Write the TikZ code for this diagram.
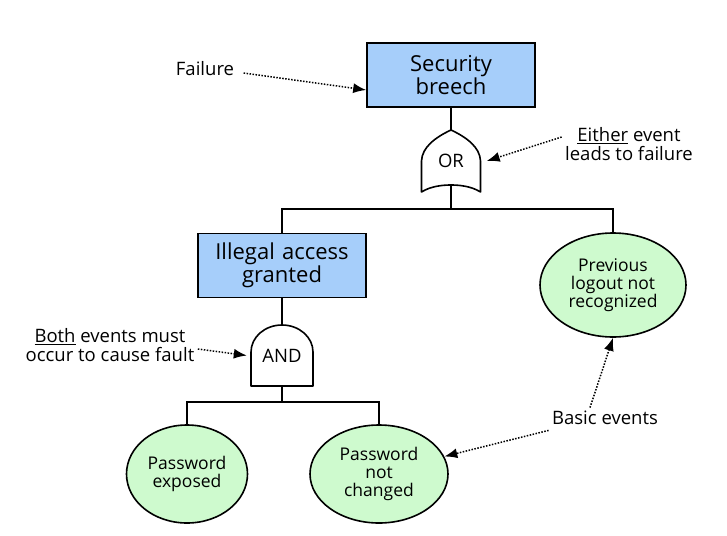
\documentclass[tikz,border=0pt]{standalone}
\usepackage{fontspec}
\setmainfont{Open Sans}
\usetikzlibrary{arrows.meta,positioning,shapes.geometric}
\definecolor{boxblue}{RGB}{166,206,250}
\definecolor{eventgreen}{RGB}{206,250,206}
\tikzset{
    %Define style for fault event boxes
    faultbox/.style={
           rectangle,
           draw=black, line width=1.6pt,
           fill=boxblue,
           minimum width=168pt,
           minimum height=64pt,
           text width=160pt,
           align=center,
           font=\fontsize{22}{21}\selectfont},
    %Basic events are ellipses
    basicevent/.style={
           ellipse,
           draw=black, line width=1.6pt,
           fill=eventgreen,
           inner sep=0pt,
           align=center,
           font=\fontsize{17.5}{18}\selectfont},
    gatenode/.style={inner sep=0pt, font=\fontsize{18.5}{18}\selectfont},
    gateline/.style={draw=black, line width=1.6pt, line join=round},
    treeline/.style={draw=black, line width=1.6pt},
    notetext/.style={align=center, font=\fontsize{18.5}{19}\selectfont},
    notearrow/.style={draw=black, line width=1.5pt, dash pattern=on 1.5pt off 1.5pt,
           -{Latex[length=13pt,width=10pt]}}
}

\begin{document}
\begin{tikzpicture}[x=1pt, y=-1pt]
\useasboundingbox (0,0) rectangle (727,535);
%Events and gates
\node[faultbox] (secbox) at (451,75) {Security\\breech};
\node[gatenode, minimum width=59pt, minimum height=62pt] (orgate) at (451,161) {OR};
\node[faultbox] (ilbox) at (282,265.5) {Illegal access\\granted};
\node[basicevent, minimum width=146pt, minimum height=104pt] (prevev) at (613,285) {Previous\\logout not\\recognized};
\node[gatenode, minimum width=62pt, minimum height=61pt] (andgate) at (282,355.5) {AND};
\node[basicevent, minimum width=121pt, minimum height=98pt] (pwexp) at (187,474) {Password\\exposed};
\node[basicevent, minimum width=138pt, minimum height=98pt] (pwnot) at (379,474) {Password\\not\\changed};
%Gate outlines
\begin{scope}[shift={(orgate.center)}]
\draw[gateline] (0,-31) .. controls (-15,-24) and (-29,-14) .. (-29.5,0) -- (-29.5,31)
    .. controls (-20,25) and (-8,24) .. (0,24) .. controls (8,24) and (20,25) .. (29.5,31)
    -- (29.5,0) .. controls (29,-14) and (15,-24) .. (0,-31) -- cycle;
\end{scope}
\begin{scope}[shift={(andgate.center)}]
\draw[gateline] (-31,30.5) -- (-31,-3.5) arc[start angle=180, end angle=0, x radius=31pt, y radius=27pt] -- (31,30.5) -- cycle;
\end{scope}
%Tree connections
\coordinate (orout) at ([yshift=7pt]orgate.south);
\coordinate (orjoin) at (451,209);
\coordinate (andjoin) at (282,402);
\draw[treeline] (secbox.south) -- (orgate.north);
\draw[treeline] (orout) -- (orjoin);
\draw[treeline] (ilbox.north) |- (orjoin) -| (prevev.north);
\draw[treeline] (ilbox.south) -- (andgate.north);
\draw[treeline] (andgate.south) -- (andjoin);
\draw[treeline] (pwexp.north) |- (andjoin) -| (pwnot.north);
%Notes
\node[notetext] (failnote) at (205,69) {Failure};
\node[notetext] (eithernote) at (629,144) {\underline{Either} event\\leads to failure};
\node[notetext] (bothnote) at (110,345) {\underline{Both} events must\\occur to cause fault};
\node[notetext] (basicnote) at (605,418) {Basic events};
\draw[notearrow] ([xshift=6pt, yshift=-4pt]failnote.east) -- ([yshift=-15pt]secbox.west);
\draw[notearrow] ([yshift=7pt]eithernote.west) -- ([xshift=6pt]orgate.east);
\draw[notearrow] ([yshift=-4pt]bothnote.east) -- ([xshift=-4pt]andgate.west);
\draw[notearrow] ([xshift=-15pt]basicnote.north) -- (prevev.south);
\draw[notearrow] ([yshift=-2pt]basicnote.south west) -- (pwnot.15);
\end{tikzpicture}
\end{document}
